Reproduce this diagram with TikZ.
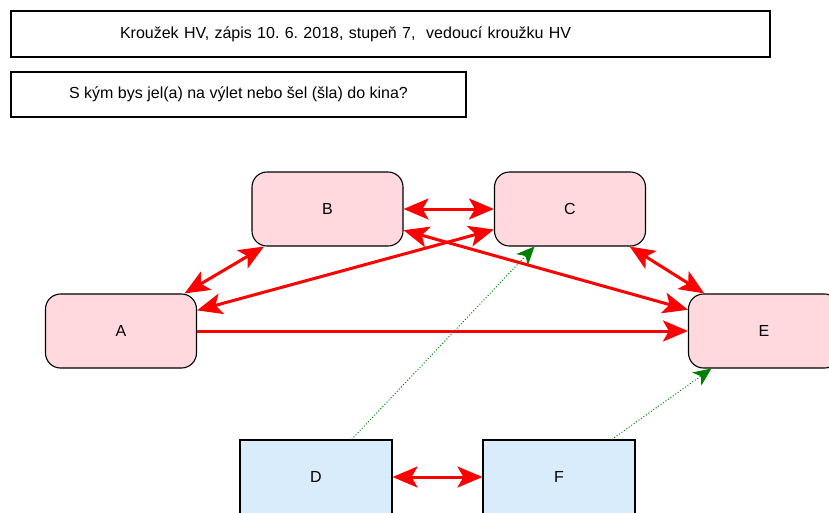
\documentclass[tikz,border=0pt]{standalone}
\usepackage{fontspec}
\setmainfont{Liberation Sans}
\definecolor{pinkbox}{HTML}{FFD9DD}
\definecolor{bluebox}{HTML}{D9ECFC}
\definecolor{dgreen}{HTML}{008000}
\usetikzlibrary{arrows.meta}
\frenchspacing

\begin{document}
\begin{tikzpicture}[x=1pt,y=-1pt,font=\fontsize{16}{19}\selectfont,
	frame/.style={draw=black,line width=1.1pt,inner sep=0pt},
	girl/.style={frame,fill=pinkbox,rounded corners=15pt,minimum width=151pt,minimum height=74pt},
	boy/.style={frame,fill=bluebox,minimum width=152pt,minimum height=74pt},
	choice/.style={draw=red,line width=3pt,{Stealth[length=25pt,width=21pt,inset=6pt]}-{Stealth[length=25pt,width=21pt,inset=6pt]}},
	oneway/.style={draw=red,line width=3pt,-{Stealth[length=25pt,width=21pt,inset=6pt]}},
	hint/.style={draw=dgreen,line width=1pt,dotted,-{Stealth[length=18pt,width=16pt,inset=5pt]}}]
	\useasboundingbox (0,0) rectangle (829,512);
	% header
	\node[frame,minimum width=759pt,minimum height=46pt,inner xsep=109pt,text width=541pt,align=left] (head) at (390.5,34) {Kroužek HV, zápis 10. 6. 2018, stupeň 7,\ \ vedoucí kroužku HV};
	\node[frame,minimum width=455pt,minimum height=45pt] (quest) at (238.5,94.5) {S kým bys jel(a) na výlet nebo šel (šla) do kina?};
	% pupils
	\node[girl] (B) at (327.5,209) {B};
	\node[girl] (C) at (570,209) {C};
	\node[girl] (A) at (121,331) {A};
	\node[girl] (E) at (764,331) {E};
	\node[boy] (D) at (316,477) {D};
	\node[boy] (F) at (559,477) {F};
	% choices
	\draw[choice] (B) -- (C);
	\draw[choice] (A) -- (B);
	\draw[choice] (A) -- (C);
	\draw[choice] (B) -- (E);
	\draw[choice] (C) -- (E);
	\draw[oneway] (A) -- (E);
	\draw[choice] (D) -- (F);
	\draw[hint] (D) -- (C);
	\draw[hint] (F) -- (E);
\end{tikzpicture}
\end{document}
